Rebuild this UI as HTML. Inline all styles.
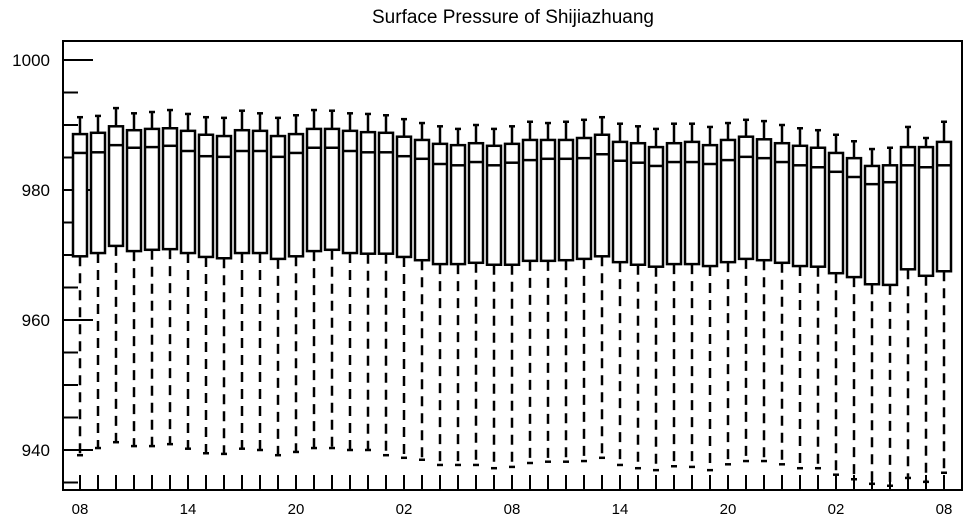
<!DOCTYPE html>
<html><head><meta charset="utf-8"><style>
body{margin:0;background:#fff;}
svg{display:block;font-family:"Liberation Sans",Arial,sans-serif;}
</style></head><body>
<svg id="chart" width="968" height="520" viewBox="0 0 968 520">
<text x="513" y="23" text-anchor="middle" font-size="19">Surface Pressure of Shijiazhuang</text>
<rect x="63" y="41" width="899" height="449" fill="none" stroke="#000" stroke-width="2"/>
<g id="yaxis"></g>
<g id="xaxis"></g>
<g id="boxes"></g>
</svg>
<script>
const hours = ["08","09","10","11","12","13","14","15","16","17","18","19","20","21","22","23","00","01","02","03","04","05","06","07","08","09","10","11","12","13","14","15","16","17","18","19","20","21","22","23","00","01","02","03","04","05","06","07","08"];
const whiskerHigh = [991.2,991.4,992.6,991.8,992.0,992.3,991.7,991.2,991.1,992.2,991.8,991.1,991.5,992.3,992.2,991.8,991.7,991.5,990.9,990.3,989.8,989.4,990.0,989.4,989.8,990.5,990.3,990.5,990.8,991.2,990.2,989.8,989.4,990.2,990.2,989.7,990.3,990.8,990.6,990.0,989.5,989.2,988.5,987.5,986.3,986.5,989.7,988.0,990.5];
const q3 = [988.6,988.8,989.8,989.2,989.4,989.5,989.1,988.5,988.3,989.2,989.1,988.3,988.6,989.4,989.4,989.1,988.9,988.8,988.2,987.7,987.1,986.9,987.2,986.8,987.1,987.7,987.7,987.7,988.0,988.5,987.4,987.2,986.6,987.2,987.4,986.9,987.7,988.2,987.8,987.2,986.8,986.5,985.7,984.9,983.7,983.8,986.6,986.6,987.4];
const median = [985.7,985.8,986.9,986.5,986.6,986.8,986.0,985.2,985.1,986.0,986.0,985.1,985.7,986.5,986.5,986.0,985.8,985.8,985.2,984.8,984.0,983.8,984.3,983.8,984.2,984.6,984.8,984.8,984.9,985.5,984.5,984.2,983.7,984.3,984.3,984.0,984.6,985.1,984.9,984.3,983.8,983.5,982.8,982.0,980.9,981.2,983.8,983.5,983.8];
const q1 = [969.8,970.3,971.4,970.6,970.8,970.9,970.3,969.7,969.5,970.3,970.3,969.4,969.8,970.6,970.8,970.3,970.2,970.2,969.7,969.2,968.6,968.6,968.8,968.5,968.5,969.1,969.1,969.2,969.4,969.8,968.9,968.5,968.2,968.6,968.6,968.3,968.9,969.4,969.2,968.8,968.3,968.2,967.2,966.6,965.5,965.4,967.8,966.8,967.5];
const whiskerLow = [939.2,940.3,941.2,940.6,940.6,940.9,940.2,939.5,939.4,940.2,940.0,939.2,939.7,940.3,940.3,940.0,940.0,939.2,938.8,938.5,937.7,937.7,937.7,937.2,937.4,938.0,938.2,938.2,938.3,938.8,937.7,937.2,936.9,937.5,937.4,936.9,937.8,938.3,938.3,937.8,937.2,937.2,936.2,935.5,934.8,934.5,935.7,935.1,936.5];
const yTicks = [935,940,945,950,955,960,965,970,975,980,985,990,995,1000];
const yLabels = [940,960,980,1000];

const NS="http://www.w3.org/2000/svg";
const yScale = v => 60 + (1000 - v) * 6.5;
const xScale = i => 80 + i * 18;
function mk(tag, attrs, parent){const e=document.createElementNS(NS,tag);for(const k in attrs)e.setAttribute(k,attrs[k]);parent.appendChild(e);return e;}
const ya=document.getElementById('yaxis'), xa=document.getElementById('xaxis'), bx=document.getElementById('boxes');
yTicks.forEach(v=>{
  const major = yLabels.includes(v);
  const t=mk('line',{x1:63,x2:major?93:78,y1:yScale(v),y2:yScale(v),stroke:'#000','stroke-width':2},ya);
  
  
});
yLabels.forEach(v=>{
  const t=mk('text',{x:50,y:yScale(v)+6,'text-anchor':'end','font-size':17},ya);
  t.textContent=v;
  
  
});
hours.forEach((h,i)=>{
  const x=xScale(i);
  const t=mk('line',{x1:x,x2:x,y1:475,y2:490,stroke:'#000','stroke-width':2},xa);
  
  
  if(i%6===0){
    const l=mk('text',{x:x,y:514,'text-anchor':'middle','font-size':15},xa);
    l.textContent=h;
    
    
  }
});
hours.forEach((h,i)=>{
  const x=xScale(i);
  const g=mk('g',{},bx);
  
  
  mk('line',{x1:x,x2:x,y1:yScale(whiskerHigh[i]),y2:yScale(q3[i]),stroke:'#000','stroke-width':2.5},g);
  mk('line',{x1:x-3,x2:x+3,y1:yScale(whiskerHigh[i]),y2:yScale(whiskerHigh[i]),stroke:'#000','stroke-width':2.5},g);
  mk('line',{x1:x,x2:x,y1:yScale(q1[i]),y2:yScale(whiskerLow[i]),stroke:'#000','stroke-width':2.5,'stroke-dasharray':'10 7'},g);
  mk('line',{x1:x-3,x2:x+3,y1:yScale(whiskerLow[i]),y2:yScale(whiskerLow[i]),stroke:'#000','stroke-width':2.5},g);
  mk('rect',{x:x-7,y:yScale(q3[i]),width:14,height:yScale(q1[i])-yScale(q3[i]),fill:'#fff',stroke:'#000','stroke-width':2.5},g);
  mk('line',{x1:x-7,x2:x+7,y1:yScale(median[i]),y2:yScale(median[i]),stroke:'#000','stroke-width':2.5},g);
});
</script>
</body></html>
